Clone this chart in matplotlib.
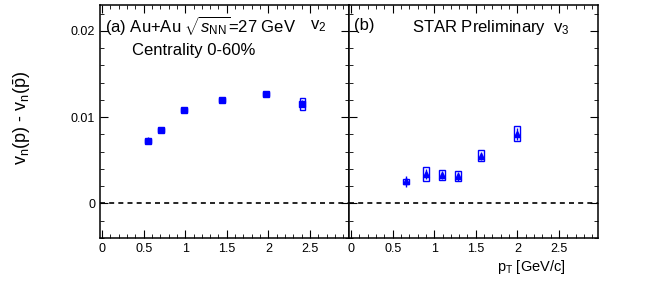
import matplotlib
matplotlib.use('Agg')
import matplotlib.pyplot as plt
from matplotlib.patches import Rectangle
from matplotlib.ticker import MultipleLocator

plt.rcParams['font.family'] = ['Liberation Sans', 'DejaVu Sans']
plt.rcParams['mathtext.fontset'] = 'custom'
plt.rcParams['mathtext.rm'] = 'Liberation Sans'
plt.rcParams['mathtext.it'] = 'Liberation Sans:italic'

# v2 difference (panel a)
pt_v2 = [0.557, 0.709, 0.99, 1.44, 1.97, 2.41]
dv2 = [0.00726, 0.00853, 0.01084, 0.0120, 0.0127, 0.01154]
dv2_stat = [0.0004, 0.0003, 0.0003, 0.0003, 0.0003, 0.0004]
dv2_sys = [0.0002, 0.0002, 0.0002, 0.0002, 0.0002, 0.0007]

# v3 difference (panel b)
pt_v3 = [0.66, 0.90, 1.09, 1.29, 1.56, 2.00]
dv3 = [0.00255, 0.0034, 0.00332, 0.00313, 0.00552, 0.0081]
dv3_stat = [0.0006, 0.0006, 0.0005, 0.0005, 0.0005, 0.0007]
dv3_sys = [0.0003, 0.00077, 0.00058, 0.00058, 0.00064, 0.0009]

fig = plt.figure(figsize=(6.64, 2.81), dpi=100)
ax1 = fig.add_axes([100 / 664, 43 / 281, 249 / 664, 233 / 281])
ax2 = fig.add_axes([349 / 664, 43 / 281, 249 / 664, 233 / 281], sharey=ax1)


def draw(ax, x, y, stat, sys, marker):
    for xi, yi, si in zip(x, y, sys):
        ax.add_patch(Rectangle((xi - 0.035, yi - si), 0.07, 2 * si,
                               fill=False, edgecolor='blue', lw=1.0, zorder=3))
    ax.errorbar(x, y, yerr=stat, fmt=marker, color='blue', ms=4.5,
                capsize=0, elinewidth=1.0, zorder=4)
    ax.axhline(0, color='black', ls='--', lw=1.2, dashes=(3, 2.5))
    ax.set_xlim(-0.025, 2.97)
    ax.xaxis.set_major_locator(MultipleLocator(0.5))
    ax.xaxis.set_minor_locator(MultipleLocator(0.1))
    ax.yaxis.set_major_locator(MultipleLocator(0.01))
    ax.yaxis.set_minor_locator(MultipleLocator(0.002))
    ax.tick_params(which='both', direction='in', top=True, right=True,
                   labelsize=9)
    ax.tick_params(which='major', length=6)
    ax.tick_params(which='minor', length=3)
    ax.set_xticks([0, 0.5, 1, 1.5, 2, 2.5])
    ax.set_xticklabels(['0', '0.5', '1', '1.5', '2', '2.5'])
    for s in ax.spines.values():
        s.set_linewidth(1.1)


draw(ax1, pt_v2, dv2, dv2_stat, dv2_sys, 's')
draw(ax2, pt_v3, dv3, dv3_stat, dv3_sys, '^')

ax1.set_ylim(-0.004, 0.023)
ax1.set_yticks([0, 0.01, 0.02])
ax1.set_yticklabels(['0', '0.01', '0.02'])
ax2.tick_params(labelleft=False)

ax1.text(0.02, 0.96, r'(a) Au+Au $\sqrt{s_{\mathrm{NN}}}$=27 GeV',
         transform=ax1.transAxes, fontsize=12, va='top')
ax1.text(0.13, 0.835, 'Centrality 0-60%', transform=ax1.transAxes,
         fontsize=12, va='top')
ax1.text(0.845, 0.945, r'v$_2$', transform=ax1.transAxes, fontsize=12, va='top')

ax2.text(0.02, 0.945, '(b)', transform=ax2.transAxes, fontsize=12, va='top')
ax2.text(0.255, 0.945, r'STAR Preliminary  v$_3$', transform=ax2.transAxes,
         fontsize=12, va='top')

fig.text(22 / 664, 1 - 118 / 281, r'v$_\mathrm{n}$(p) - v$_\mathrm{n}$($\bar{\mathrm{p}}$)',
         rotation=90, fontsize=13, va='center', ha='center')
fig.text(566 / 664, 1 - 267 / 281, r'p$_\mathrm{T}$ [GeV/c]', fontsize=10.5,
         ha='right', va='center')

fig.savefig('out.png', dpi=100)
